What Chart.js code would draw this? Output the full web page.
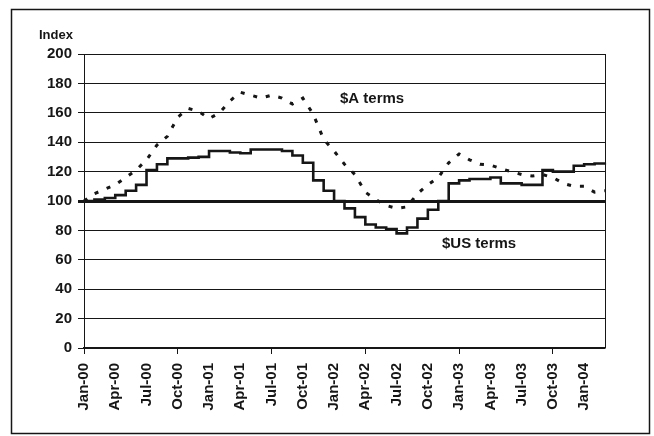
<!DOCTYPE html>
<html>
<head>
<meta charset="utf-8">
<script src="https://cdn.jsdelivr.net/npm/chart.js@4/dist/chart.umd.min.js"></script>
<style>
  html, body { margin: 0; padding: 0; background: #fff; }
  #wrap { position: relative; width: 654px; height: 436px; }
</style>
</head>
<body>
<div id="wrap"><canvas id="chart" width="654" height="436"></canvas></div>
<script>
// --- data (monthly, Jan-00 to Mar-04) ---
const months = [
  'Jan-00','Feb-00','Mar-00','Apr-00','May-00','Jun-00','Jul-00','Aug-00','Sep-00','Oct-00','Nov-00','Dec-00',
  'Jan-01','Feb-01','Mar-01','Apr-01','May-01','Jun-01','Jul-01','Aug-01','Sep-01','Oct-01','Nov-01','Dec-01',
  'Jan-02','Feb-02','Mar-02','Apr-02','May-02','Jun-02','Jul-02','Aug-02','Sep-02','Oct-02','Nov-02','Dec-02',
  'Jan-03','Feb-03','Mar-03','Apr-03','May-03','Jun-03','Jul-03','Aug-03','Sep-03','Oct-03','Nov-03','Dec-03',
  'Jan-04','Feb-04','Mar-04'
];
const usTerms = [
  100, 101, 102, 104, 107, 111, 121, 125, 129, 129, 129.5, 130,
  134, 134, 133, 132.5, 135, 135, 135, 134, 131, 126, 114, 107,
  100, 95, 89, 84, 82, 81, 78, 82, 88, 94, 100, 112,
  114, 115, 115, 116, 112, 112, 111, 111, 121, 120, 120, 124,
  125, 125.5, 126
];
const audTerms = [
  100, 105, 108, 111, 116, 121, 128, 138, 144, 157, 163, 161,
  156, 160, 168, 174, 172, 170, 172, 170, 166, 170, 159, 142,
  134, 125, 118, 106, 101, 97, 95, 96, 105, 111, 116, 126,
  132, 128, 125, 124.5, 122, 120, 118, 117, 118, 116, 112, 110,
  110, 106, 107
];
const yTicks = [0, 20, 40, 60, 80, 100, 120, 140, 160, 180, 200];

const INK = '#161616';
const FONT = '"Liberation Sans", Arial, sans-serif';

// --- fixed plot-area box ---
const PLOT = { left: 84, top: 54, right: 605, bottom: 348 };

const decorPlugin = {
  id: 'decor',
  beforeDraw(chart) {
    const ctx = chart.ctx;
    ctx.save();
    ctx.fillStyle = '#fff';
    ctx.fillRect(0, 0, chart.width, chart.height);
    ctx.restore();
  },
  afterDraw(chart) {
    const ctx = chart.ctx;
    const a = chart.chartArea;
    ctx.save();
    // outer frame
    ctx.strokeStyle = INK;
    ctx.lineWidth = 1.5;
    ctx.strokeRect(11.5, 9.5, 638, 424);
    // right edge of plot
    ctx.lineWidth = 1;
    ctx.beginPath();
    ctx.moveTo(Math.round(a.right) + 0.5, a.top);
    ctx.lineTo(Math.round(a.right) + 0.5, a.bottom);
    ctx.stroke();
    // texts
    ctx.fillStyle = INK;
    ctx.textBaseline = 'middle';
    ctx.font = 'bold 13px ' + FONT;
    ctx.textAlign = 'left';
    ctx.fillText('Index', 39, 35);
    ctx.font = 'bold 15px ' + FONT;
    ctx.fillText('$A terms', 340, 99);
    ctx.fillText('$US terms', 442, 244);
    ctx.restore();
  }
};

new Chart(document.getElementById('chart'), {
  type: 'line',
  data: {
    labels: months,
    datasets: [
      {
        label: '$US terms',
        data: usTerms,
        borderColor: INK,
        borderWidth: 2.6,
        stepped: true,
        pointRadius: 0,
        fill: false
      },
      {
        label: '$A terms',
        data: audTerms,
        borderColor: INK,
        borderWidth: 3,
        borderDash: [4, 9],
        borderCapStyle: 'butt',
        tension: 0,
        pointRadius: 0,
        fill: false
      }
    ]
  },
  options: {
    responsive: false,
    animation: false,
    layout: { padding: { left: 0, top: PLOT.top, right: 654 - PLOT.right, bottom: 0 } },
    plugins: { legend: { display: false }, tooltip: { enabled: false } },
    scales: {
      x: {
        offset: false,
        afterFit(scale) { scale.height = 436 - PLOT.bottom; },
        grid: {
          drawOnChartArea: false,
          drawTicks: true,
          tickLength: 6,
          color: (c) => (c.index % 3 === 0 ? INK : 'rgba(0,0,0,0)')
        },
        border: { display: true, color: INK, width: 1.5 },
        ticks: {
          autoSkip: false,
          maxRotation: 90,
          minRotation: 90,
          padding: 9,
          color: INK,
          font: { family: FONT, size: 15, weight: 'bold' },
          callback(v, i) { return i % 3 === 0 ? months[i] : null; }
        }
      },
      y: {
        min: 0,
        max: 200,
        afterFit(scale) { scale.width = PLOT.left; },
        afterBuildTicks(scale) { scale.ticks = yTicks.map(v => ({ value: v })); },
        grid: {
          color: INK,
          lineWidth: (c) => (c.tick && c.tick.value === 100 ? 3 : 1),
          tickLength: 6
        },
        border: { display: true, color: INK, width: 1 },
        ticks: {
          padding: 6,
          color: INK,
          font: { family: FONT, size: 15, weight: 'bold' }
        }
      }
    }
  },
  plugins: [decorPlugin]
});
</script>
</body>
</html>
